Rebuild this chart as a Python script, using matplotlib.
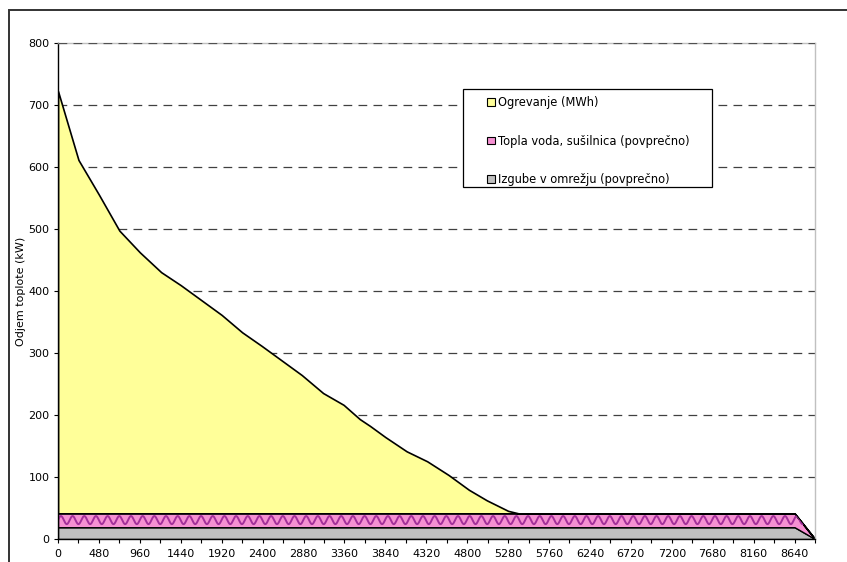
import numpy as np
import matplotlib.pyplot as plt
from matplotlib.patches import Patch, Rectangle

#==============================================================================
#- podatki (odčitano s slike)
#==============================================================================
ure = [0, 240, 480, 720, 960, 1210, 1440, 1720, 1920, 2160, 2390, 2570, 2860,
       3110, 3350, 3540, 3660, 3840, 4090, 4330, 4580, 4820, 5030, 5280, 5400,
       8640, 8880]
izgube = [19, 19, 19, 19, 19, 19, 19, 19, 19, 19, 19, 19, 19, 19, 19, 19, 19,
          19, 19, 19, 19, 19, 19, 19, 19, 19, 0]
topla_voda = [22.4, 22.4, 22.4, 22.4, 22.4, 22.4, 22.4, 22.4, 22.4, 22.4, 22.4,
              22.4, 22.4, 22.4, 22.4, 22.4, 22.4, 22.4, 22.4, 22.4, 22.4, 22.4,
              22.4, 22.4, 22.4, 22.4, 0]
ogrevanje = [681, 570, 514, 456, 421, 389, 368, 340, 320, 292, 270, 252, 223,
             194, 175, 152, 141, 123, 100, 84, 62, 38, 21, 4, 0, 0, 0]

oznake = ['Ogrevanje (MWh)', 'Topla voda, sušilnica (povprečno)',
          'Izgube v omrežju (povprečno)']
barve = ['#FFFF99', '#F590D2', '#C0C0C0']

x = np.array(ure, dtype=float)
y1 = np.array(izgube, dtype=float)
y2 = y1 + np.array(topla_voda)
y3 = y2 + np.array(ogrevanje)

#==============================================================================
#- slika
#==============================================================================
W, H = 847, 562
fig = plt.figure(figsize=(W / 100, H / 100), dpi=100)
ax = fig.add_axes([58 / W, 1 - 539 / H, (815 - 58) / W, (539 - 43) / H])

# okvir grafa
fig.patches.append(Rectangle((9 / W, -0.2), 1.5, 1.2 - 10 / H,
                             transform=fig.transFigure, fill=False,
                             edgecolor='#333333', linewidth=1.4))

# mreža (pod ploskvami)
for v in range(100, 800, 100):
    ax.axhline(v, color='#404040', linewidth=0.9, linestyle=(0, (7, 5)), zorder=0.5)
ax.axhline(800, color='#505050', linewidth=0.9, linestyle=(0, (7, 5)), zorder=3)

ax.fill_between(x, 0, y1, facecolor=barve[2], edgecolor='black', linewidth=1.0, zorder=2)
pink = ax.fill_between(x, y1, y2, facecolor=barve[1], edgecolor='black', linewidth=1.0, zorder=2)
ax.fill_between(x, y2, y3, facecolor=barve[0], edgecolor='black', linewidth=1.2, zorder=2)

# valovit vzorec
xv = np.linspace(0, 8880, 4000)
val, = ax.plot(xv, 30.5 + 6.5 * np.sin(2 * np.pi * xv / 137.0), color='#A3309A',
               linewidth=1.4, zorder=2.2)
val.set_clip_path(pink.get_paths()[0], ax.transData)

ax.set_xlim(0, 8880)
ax.set_ylim(0, 800)
ax.set_xticks(np.arange(0, 8641, 480))
ax.set_xticks(np.arange(0, 8881, 240), minor=True)
ax.set_yticks(np.arange(0, 801, 100))
ax.tick_params(axis='both', which='both', direction='out', length=3,
               width=0.8, labelsize=8, colors='black')
ax.tick_params(axis='x', pad=4)
ax.tick_params(axis='y', pad=3)

for s in ['top', 'right']:
    ax.spines[s].set_color('#C0C0C0')
    ax.spines[s].set_linewidth(1.0)
    ax.spines[s].set_zorder(2.5)
for s in ['left', 'bottom']:
    ax.spines[s].set_color('black')
    ax.spines[s].set_linewidth(1.0)

ax.set_ylabel('Odjem toplote (kW)', fontsize=8, labelpad=2)

# legenda
fig.patches.append(Rectangle((463 / W, 1 - 187 / H), 249 / W, 98 / H,
                             transform=fig.transFigure, facecolor='white',
                             edgecolor='black', linewidth=0.9, zorder=5))
roc = [Patch(facecolor=b, edgecolor='black', linewidth=0.8) for b in barve]
leg = fig.legend(roc, oznake, loc='upper left',
                 bbox_to_anchor=(485 / W, 1 - 94 / H), frameon=False,
                 fontsize=8.3, handlelength=0.65, handleheight=0.65,
                 handletextpad=0.25, labelspacing=2.2, borderpad=0.2,
                 borderaxespad=0)
leg.set_zorder(6)

plt.savefig('out.png', dpi=100)
plt.close()
